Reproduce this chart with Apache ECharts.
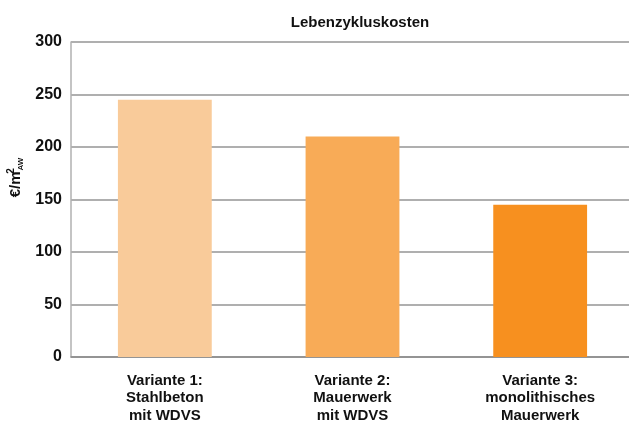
<!DOCTYPE html>
<html>
<head>
<meta charset="utf-8">
<script src="https://cdn.jsdelivr.net/npm/echarts@6/dist/echarts.min.js"></script>
<style>
html, body { margin: 0; padding: 0; background: #fff; }
#chart { width: 629px; height: 421px; }
</style>
</head>
<body>
<div id="chart"></div>
<script>
var categories = ['Variante 1:\nStahlbeton\nmit WDVS', 'Variante 2:\nMauerwerk\nmit WDVS', 'Variante 3:\nmonolithisches\nMauerwerk'];
var values = [245, 210, 145];
var barColors = ['#f9cb9a', '#f8ab57', '#f7901f'];

var chart = echarts.init(document.getElementById('chart'));
var font = 'Liberation Sans, Arial, sans-serif';

var option = {
    animation: false,
    title: {
        text: 'Lebenzykluskosten',
        left: 355,
        textAlign: 'center',
        top: 10,
        textStyle: { fontFamily: font, fontWeight: 'bold', fontSize: 15, color: '#111' }
    },
    grid: { left: 71, top: 42, width: 563, height: 315, outerBoundsMode: 'none' },
    xAxis: {
        type: 'category',
        data: categories,
        axisLine: { lineStyle: { color: '#8c8c8c', width: 1.5 } },
        axisTick: { show: false },
        axisLabel: {
            margin: 15,
            lineHeight: 17.5,
            fontFamily: font, fontWeight: 'bold', fontSize: 15, color: '#111'
        }
    },
    yAxis: {
        type: 'value',
        min: 0,
        max: 300,
        interval: 50,
        name: '{a|€/m}{b|2}{c|AW}',
        nameLocation: 'middle',
        nameGap: 45,
        nameRotate: 90,
        nameTextStyle: {
            padding: [0, 0, 0, 44],
            rich: {
                a: { fontFamily: font, fontWeight: 'bold', fontSize: 15, color: '#111' },
                b: { fontFamily: font, fontWeight: 'bold', fontSize: 10, color: '#111', width: 1, verticalAlign: 'top', padding: [0, 0, 8, 0] },
                c: { fontFamily: font, fontWeight: 'bold', fontSize: 8, color: '#111', padding: [10, 0, 0, 0] }
            }
        },
        axisLine: { show: true, lineStyle: { color: '#b0b0b0', width: 1.5 } },
        axisTick: { show: false },
        splitLine: { lineStyle: { color: '#959595', width: 1.5 } },
        axisLabel: {
            margin: 9,
            fontFamily: font, fontWeight: 'bold', fontSize: 16, color: '#111'
        }
    },
    series: [{
        type: 'bar',
        barWidth: '50%',
        data: values.map(function (v, i) {
            return { value: v, itemStyle: { color: barColors[i] } };
        })
    }]
};

chart.setOption(option);
</script>
</body>
</html>
